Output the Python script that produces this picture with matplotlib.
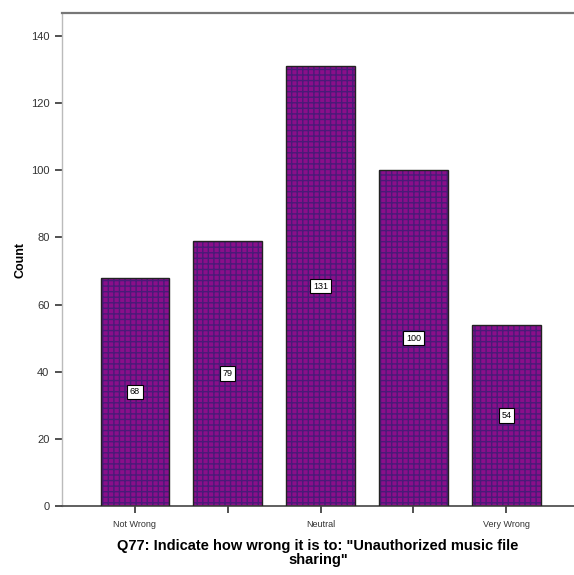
import matplotlib
matplotlib.use("Agg")
import matplotlib.pyplot as plt

# data
categories = ["Not Wrong", "2", "Neutral", "4", "Very Wrong"]
tick_labels = ["Not Wrong", "", "Neutral", "", "Very Wrong"]
counts = [68, 79, 131, 100, 54]

plt.rcParams["font.family"] = ["Liberation Sans", "DejaVu Sans"]

fig = plt.figure(figsize=(5.74, 5.75), dpi=100)
ax = fig.add_axes([0.108, 0.12, 0.892, 0.857])

x = list(range(len(counts)))
# hatched fill, then a separate outline
ax.bar(x, counts, width=0.74, color="#8a0f8a", edgecolor="#4a1a78",
       hatch="+++", linewidth=0, zorder=2)
ax.bar(x, counts, width=0.74, fill=False, edgecolor="#222222",
       linewidth=1.0, zorder=3)

# value boxes at mid-height
for xi, c in zip(x, counts):
    ax.text(xi, c / 2, str(c), ha="center", va="center", fontsize=6.5,
            zorder=4,
            bbox=dict(boxstyle="square,pad=0.3", fc="white", ec="black", lw=0.8))

ax.set_xlim(-0.785, 4.73)
ax.set_ylim(0, 146.8)
ax.set_yticks([0, 20, 40, 60, 80, 100, 120, 140])
ax.set_xticks(x)
ax.set_xticklabels(tick_labels, fontsize=6.5, color="#333333")
ax.tick_params(axis="y", labelsize=8, length=5, width=1.2, color="#333333",
               labelcolor="#333333", pad=4)
ax.tick_params(axis="x", length=5, width=1.2, color="#333333", pad=5)

ax.spines["right"].set_visible(False)
ax.spines["left"].set_color("#bbbbbb")
ax.spines["left"].set_linewidth(1.0)
ax.spines["bottom"].set_color("#444444")
ax.spines["bottom"].set_linewidth(1.2)
ax.spines["top"].set_color("#777777")
ax.spines["top"].set_linewidth(1.6)

ax.set_ylabel("Count", fontsize=9, fontweight="bold", labelpad=3)
ax.set_xlabel('Q77: Indicate how wrong it is to: "Unauthorized music file\nsharing"',
              fontsize=10.5, fontweight="bold", labelpad=7, linespacing=1.05)

fig.savefig("out.png", dpi=100)
